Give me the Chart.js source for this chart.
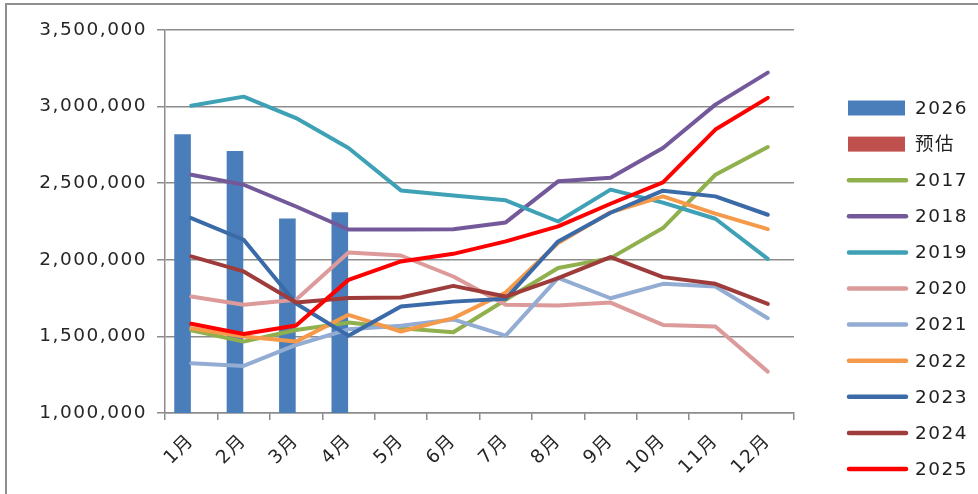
<!DOCTYPE html>
<html>
<head>
<meta charset="utf-8">
<script src="https://cdn.jsdelivr.net/npm/chart.js@4/dist/chart.umd.min.js"></script>
<style>
  html, body { margin: 0; padding: 0; background: #fff; }
  #wrap { position: relative; width: 978px; height: 494px; }
  canvas { display: block; }
</style>
</head>
<body>
<div id="wrap"><canvas id="c" width="978" height="494"></canvas></div>
<script>
// Monthly volumes by year, 1月..12月
const months = ['1月', '2月', '3月', '4月', '5月', '6月', '7月', '8月', '9月', '10月', '11月', '12月'];
const yTicks = [1000000, 1500000, 2000000, 2500000, 3000000, 3500000];

const v2026 = [2820000, 2710000, 2270000, 2310000, null, null, null, null, null, null, null, null];
const vEstimate = [null, null, null, null, null, null, null, null, null, null, null, null];
const v2017 = [1540000, 1466000, 1542000, 1590000, 1553000, 1527000, 1739000, 1946000, 2011000, 2207000, 2555000, 2736000];
const v2018 = [2555000, 2490000, 2348000, 2198000, 2197000, 2200000, 2244000, 2512000, 2536000, 2730000, 3013000, 3222000];
const v2019 = [3005000, 3065000, 2925000, 2730000, 2453000, 2420000, 2388000, 2250000, 2458000, 2373000, 2268000, 2006000];
const v2020 = [1760000, 1706000, 1739000, 2048000, 2028000, 1891000, 1706000, 1702000, 1721000, 1575000, 1564000, 1270000];
const v2021 = [1324000, 1307000, 1444000, 1546000, 1570000, 1611000, 1505000, 1882000, 1749000, 1843000, 1826000, 1619000];
const v2022 = [1553000, 1499000, 1466000, 1641000, 1532000, 1619000, 1787000, 2110000, 2310000, 2414000, 2301000, 2200000];
const v2023 = [2272000, 2131000, 1715000, 1505000, 1695000, 1727000, 1745000, 2120000, 2307000, 2451000, 2414000, 2294000];
const v2024 = [2022000, 1924000, 1721000, 1750000, 1754000, 1830000, 1760000, 1880000, 2018000, 1887000, 1843000, 1712000];
const v2025 = [1582000, 1516000, 1571000, 1869000, 1989000, 2039000, 2120000, 2218000, 2366000, 2505000, 2850000, 3057000];

const FONT_FAMILY = "'DejaVu Sans', 'Noto Sans CJK SC', sans-serif";
const TEXT_COLOR = '#262626';
const GRID_COLOR = '#8c8c8c';

const PAD = { left: 5, right: 184, top: 30, bottom: 6 };
const AXIS_X = 165;     // left edge of plot area
const AXIS_BOTTOM = 413; // bottom edge of plot area

function lineSet(label, data, color, order) {
  return {
    type: 'line', label, data,
    borderColor: color, backgroundColor: color,
    borderWidth: 4, pointRadius: 0, pointHoverRadius: 0,
    tension: 0, fill: false, spanGaps: false,
    borderCapStyle: 'round', borderJoinStyle: 'round',
    order
  };
}

const datasets = [
  { type: 'bar', label: '2026', data: v2026, backgroundColor: '#4a7ebb', order: 100,
    categoryPercentage: 0.66, barPercentage: 0.96 },
  { type: 'bar', label: '预估', data: vEstimate, backgroundColor: '#c0504d', order: 101,
    categoryPercentage: 0.66, barPercentage: 0.96 },
  lineSet('2017', v2017, '#8fb04c', 20),
  lineSet('2018', v2018, '#74599a', 19),
  lineSet('2019', v2019, '#3ea1b6', 18),
  lineSet('2020', v2020, '#dc9b9a', 17),
  lineSet('2021', v2021, '#93acd3', 16),
  lineSet('2022', v2022, '#f59a4b', 15),
  lineSet('2023', v2023, '#3a6aa8', 14),
  lineSet('2024', v2024, '#9e3c3b', 13),
  lineSet('2025', v2025, '#ff0000', 12)
];

// Applies the wide letter spacing used by every label of this chart
const spacingPlugin = {
  id: 'spacing',
  beforeUpdate(chart) { chart.ctx.letterSpacing = '1.5px'; },
  beforeDraw(chart) { chart.ctx.letterSpacing = '1.5px'; }
};

// Legend column on the right: rectangles for bars, short strokes for lines
const sideLegend = {
  id: 'sideLegend',
  afterDraw(chart) {
    const ctx = chart.ctx;
    const x0 = 848, swW = 57, textX = 915, y0 = 108, step = 36.1;
    ctx.save();
    ctx.letterSpacing = '1.5px';
    ctx.font = '18.5px ' + FONT_FAMILY;
    ctx.textBaseline = 'middle';
    ctx.textAlign = 'left';
    chart.data.datasets.forEach((ds, i) => {
      const cy = y0 + i * step;
      if (ds.type === 'bar') {
        ctx.fillStyle = ds.backgroundColor;
        ctx.fillRect(x0, cy - 7.5, swW, 15);
      } else {
        ctx.strokeStyle = ds.borderColor;
        ctx.lineWidth = 4.5;
        ctx.lineCap = 'round';
        ctx.beginPath();
        ctx.moveTo(x0 + 1, cy);
        ctx.lineTo(x0 + swW + 1, cy);
        ctx.stroke();
      }
      ctx.fillStyle = '#1f1f1f';
      ctx.fillText(ds.label, textX, cy + 1);
    });
    ctx.restore();
  }
};

// Thin frame along the top and left edges
const framePlugin = {
  id: 'frame',
  afterDraw(chart) {
    const ctx = chart.ctx;
    ctx.save();
    ctx.strokeStyle = '#8f8f8f';
    ctx.lineWidth = 2;
    ctx.beginPath();
    ctx.moveTo(6, 500);
    ctx.lineTo(6, 4);
    ctx.lineTo(990, 4);
    ctx.stroke();
    ctx.restore();
  }
};

new Chart(document.getElementById('c'), {
  type: 'bar',
  data: { labels: months, datasets },
  options: {
    responsive: false,
    animation: false,
    devicePixelRatio: 1,
    layout: { padding: PAD },
    plugins: {
      legend: { display: false },
      tooltip: { enabled: false },
      title: { display: false }
    },
    scales: {
      x: {
        offset: true,
        grid: {
          display: true, offset: true, drawOnChartArea: false, drawTicks: true,
          tickLength: 7, color: GRID_COLOR, lineWidth: 1.5
        },
        border: { display: true, color: GRID_COLOR, width: 1.5 },
        ticks: {
          autoSkip: false, minRotation: 45, maxRotation: 45, padding: 10,
          color: TEXT_COLOR, font: { family: FONT_FAMILY, size: 18.5 }
        },
        afterFit(scale) { scale.height = 494 - PAD.bottom - AXIS_BOTTOM; }
      },
      y: {
        min: yTicks[0], max: yTicks[yTicks.length - 1],
        afterBuildTicks(scale) { scale.ticks = yTicks.map(v => ({ value: v })); },
        grid: {
          color: GRID_COLOR, lineWidth: 1.5, drawTicks: true, tickLength: 8
        },
        border: { display: true, color: GRID_COLOR, width: 1.5 },
        ticks: {
          padding: 10, color: TEXT_COLOR,
          font: { family: FONT_FAMILY, size: 18.5 },
          callback: v => Number(v).toLocaleString('en-US')
        },
        afterFit(scale) { scale.width = AXIS_X - PAD.left; }
      }
    }
  },
  plugins: [spacingPlugin, sideLegend, framePlugin]
});
</script>
</body>
</html>
